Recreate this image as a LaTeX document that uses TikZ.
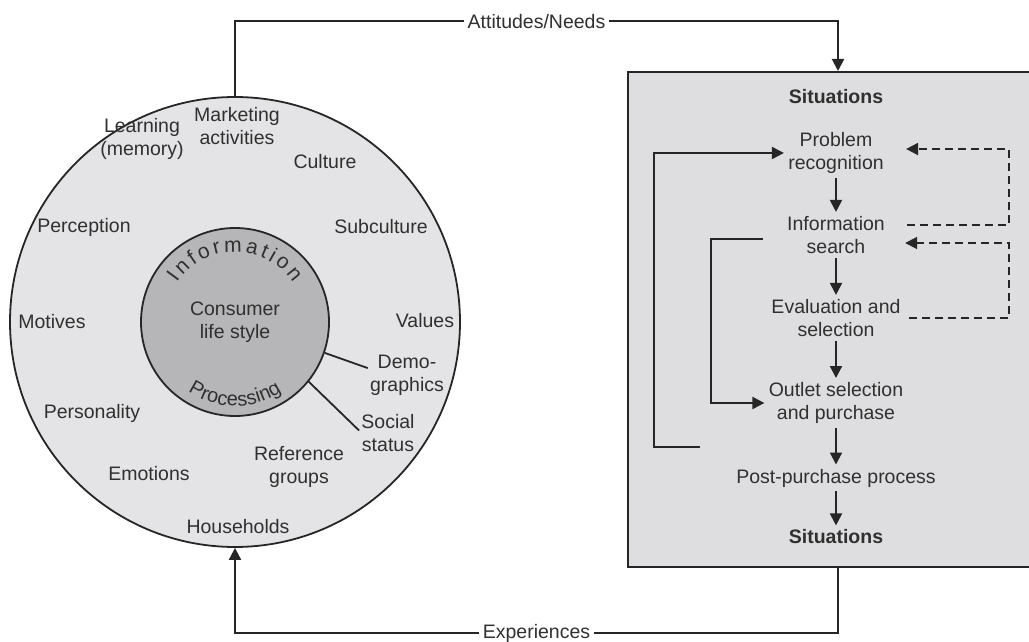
\documentclass[tikz,border=0pt]{standalone}
\usepackage{fontspec}
\setmainfont{Liberation Sans}
\usetikzlibrary{positioning, arrows.meta, decorations.text, calc}
\definecolor{ink}{RGB}{38,38,38}
\definecolor{txt}{RGB}{48,48,48}
\definecolor{ringfill}{RGB}{228,228,230}
\definecolor{corefill}{RGB}{182,182,184}
\definecolor{boxfill}{RGB}{222,222,224}
\tikzset{
  >={Triangle[length=6pt,width=6pt]},
  every node/.style={font=\fontsize{9.75}{11.5}\selectfont, text=txt},
  stage/.style={align=center, inner sep=2pt},
  sit/.style={stage, font=\fontsize{9.75}{11.5}\selectfont\bfseries},
  factor/.style={align=center, inner sep=1pt},
  flow/.style={->, draw=ink, line width=1pt},
  link/.style={draw=ink, line width=0.9pt},
  loopback/.style={->, draw=ink, line width=0.9pt, dash pattern=on 4pt off 2.5pt},
  tag/.style={fill=white, inner sep=2pt},
}

\begin{document}
\begin{tikzpicture}[x=0.5pt, y=-0.5pt]
      \useasboundingbox (0,0) rectangle (1029,642);

      % consumer circle
      \node[circle, draw=ink, line width=0.9pt, fill=ringfill, minimum size=225pt, inner sep=0] (life) at (235,322) {};
      \node[circle, draw=ink, line width=0.9pt, fill=corefill, minimum size=94pt, inner sep=0] (core) at (235,322) {};
      \node[factor] (style) at (core.center) {Consumer\\life style};

      \path[decorate, decoration={text along path, text align={fit to path},
            text={|\fontsize{10.5}{12}\selectfont\color{txt}|Information}}]
            ([shift={(146:35pt)}]core.center) arc[start angle=146, end angle=34, radius=35pt];
      \path[decorate, decoration={text along path, text align={fit to path},
            text={|\fontsize{10}{12}\selectfont\color{txt}|Processing}}]
            ([shift={(236:42pt)}]core.center) arc[start angle=236, end angle=304, radius=42pt];

      \node[factor] (mkt)     at (237,126) {Marketing\\activities};
      \node[factor] (learn)   at (142,139) {Learning\\(memory)};
      \node[factor] (culture) at (325,162) {Culture};
      \node[factor] (subcult) at (381,227) {Subculture};
      \node[factor] (percep)  at (84,227)  {Perception};
      \node[factor] (motives) at (52,322)  {Motives};
      \node[factor] (values)  at (425,321) {Values};
      \node[factor] (demo)    at (407,375) {Demo-\\graphics};
      \node[factor] (social)  at (388,433) {Social\\status};
      \node[factor] (person)  at (92,413)  {Personality};
      \node[factor] (emot)    at (149,474) {Emotions};
      \node[factor] (refgrp)  at (299,467) {Reference\\groups};
      \node[factor] (house)   at (238,527) {Households};

      \draw[link] (core.-19) -- (demo.170);
      \draw[link] (core.-39) -- (social.175);

      % decision process
      \node[draw=ink, line width=1pt, fill=boxfill, minimum width=210pt, minimum height=247.5pt, inner sep=0] (frame) at (838,319.5) {};

      \node[sit]   (sit1)   at (836,97)  {Situations};
      \node[stage] (prob)   at (836,153) {Problem\\recognition};
      \node[stage] (info)   at (836,235) {Information\\search};
      \node[stage] (eval)   at (836,318) {Evaluation and\\selection};
      \node[stage] (outlet) at (836,403) {Outlet selection\\and purchase};
      \node[stage] (post)   at (836,478) {Post-purchase process};
      \node[sit]   (sit2)   at (836,537) {Situations};

      \draw[flow] (prob) -- (info);
      \draw[flow] (info) -- (eval);
      \draw[flow] (eval) -- (outlet);
      \draw[flow] (outlet) -- (post);
      \draw[flow] (post) -- (sit2);

      \coordinate (outStart) at (700,447);
      \coordinate (inStart)  at (763,239);
      \coordinate (rail)     at (1009,0);
      \draw[flow] (outStart) -- ++(-46,0) |- (prob.west);
      \draw[flow] (inStart) -- ++(-52,0) |- (outlet.west);

      \draw[loopback] ($(info.east)+(9pt,5pt)$) -| ($(rail |- prob.east)+(0pt,2pt)$) -- ($(prob.east)+(9pt,2pt)$);
      \draw[loopback] ($(eval.east)+(2pt,0pt)$) -| ($(rail |- info.east)+(0pt,-4pt)$) -- ($(info.east)+(8pt,-4pt)$);

      % links between the two parts
      \draw[flow] (life.north) -- ++(0,-75) -| node[tag, pos=0.25] (needs) {Attitudes/Needs} (frame.north);
      \draw[flow] (frame.south) -- ++(0,65) -| node[tag, pos=0.25] (exper) {Experiences} (life.south);
\end{tikzpicture}
\end{document}
